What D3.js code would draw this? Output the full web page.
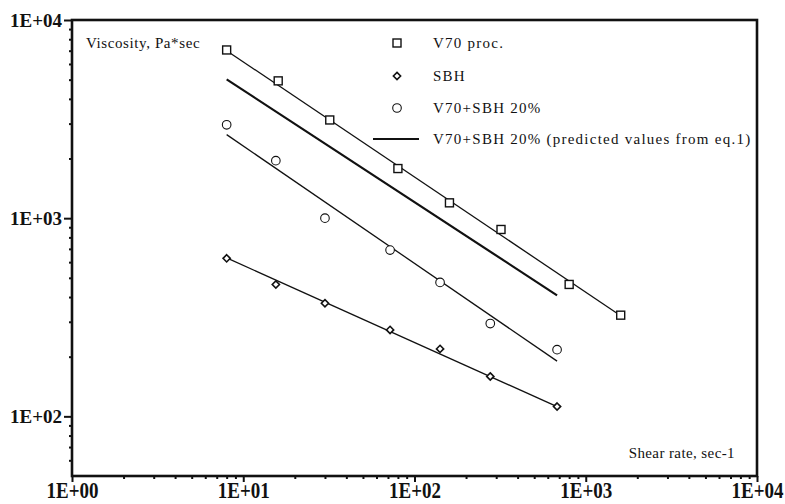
<!DOCTYPE html>
<html>
<head>
<meta charset="utf-8">
<script src="https://cdn.jsdelivr.net/npm/d3@7/dist/d3.min.js"></script>
<style>
  html, body { margin: 0; padding: 0; background: #fff; }
  svg { display: block; }
  text { font-family: "Liberation Serif", "Times New Roman", serif; fill: #111; }
</style>
</head>
<body>
<svg id="chart" width="785" height="504"></svg>
<script>
// Shear rate (sec-1) and viscosity (Pa*sec) measurements
const shearV70 = [8, 16, 32, 80, 160, 320, 800, 1600];
const viscV70 = [7060, 4930, 3130, 1780, 1195, 877, 463, 324];

const shearBlend = [8, 15.5, 30, 72, 141, 277, 680];
const viscSBH = [627, 463, 372, 273, 219, 159, 112];
const viscBlend = [2960, 1950, 1000, 690, 474, 294, 217];

// Power-law fit lines (end points)
const fitShearV70 = [8, 1600];
const fitViscV70 = [7000, 322];
const fitShearSBH = [8, 680];
const fitViscSBH = [630, 112];
const fitShearBlend = [8, 680];
const fitViscBlend = [2640, 190];
const predShear = [8, 680];
const predVisc = [5020, 408];

// Axis ticks
const xMajor = [1, 10, 100, 1000, 10000];
const yMajor = [100, 1000, 10000];

const legendLabels = ["V70 proc.", "SBH", "V70+SBH 20%", "V70+SBH 20% (predicted values from eq.1)"];

const svg = d3.select("#chart");
const plotL = 72, plotR = 757, plotT = 20, plotB = 476;

const x = d3.scaleLog().domain([1, 10000]).range([plotL, plotR]);
const y = d3.scaleLog().domain([50, 10000]).range([plotB, plotT]);

const expFmt = d => "1E+" + String(Math.round(Math.log10(d))).padStart(2, "0");

function minorTicks(scale) {
  const [a, b] = scale.domain();
  const out = [];
  for (let p = Math.floor(Math.log10(a)); p < Math.ceil(Math.log10(b)); p++) {
    for (let m = 2; m <= 9; m++) {
      const v = m * Math.pow(10, p);
      if (v > a && v < b) out.push(v);
    }
  }
  return out;
}

// Minor ticks
svg.append("g").attr("transform", `translate(0,${plotB})`)
  .call(d3.axisBottom(x).tickValues(minorTicks(x)).tickSize(3).tickFormat(""))
  .call(g => g.select(".domain").remove())
  .selectAll("line").attr("stroke", "#111").attr("stroke-width", 2);

svg.append("g").attr("transform", `translate(${plotL},0)`)
  .call(d3.axisLeft(y).tickValues(minorTicks(y)).tickSize(3).tickFormat(""))
  .call(g => g.select(".domain").remove())
  .selectAll("line").attr("stroke", "#111").attr("stroke-width", 2);

// Major ticks and labels
const xAxisG = svg.append("g").attr("transform", `translate(0,${plotB})`)
  .call(d3.axisBottom(x).tickValues(xMajor).tickSize(6).tickFormat(expFmt))
  .call(g => g.select(".domain").remove());
xAxisG.selectAll("line").attr("stroke", "#111").attr("stroke-width", 2);
xAxisG.selectAll("text")
  .attr("y", null).attr("dy", null)
  .attr("transform", "translate(0,22) scale(1,1.25)")
  .attr("font-size", 19).attr("font-weight", "bold").attr("fill", "#111");

const yAxisG = svg.append("g").attr("transform", `translate(${plotL},0)`)
  .call(d3.axisLeft(y).tickValues(yMajor).tickSize(8).tickPadding(2).tickFormat(expFmt))
  .call(g => g.select(".domain").remove());
yAxisG.selectAll("line").attr("stroke", "#111").attr("stroke-width", 2);
yAxisG.selectAll("text")
  .attr("font-size", 19).attr("font-weight", "bold").attr("fill", "#111");

// Frame
svg.append("rect")
  .attr("x", plotL).attr("y", plotT)
  .attr("width", plotR - plotL).attr("height", plotB - plotT)
  .attr("fill", "none").attr("stroke", "#111").attr("stroke-width", 2.6);

// Fit lines
const line = d3.line().x(d => x(d[0])).y(d => y(d[1]));
const fits = [
  { s: fitShearV70, v: fitViscV70, w: 1.3 },
  { s: fitShearSBH, v: fitViscSBH, w: 1.3 },
  { s: fitShearBlend, v: fitViscBlend, w: 1.3 },
  { s: predShear, v: predVisc, w: 2.2 }
];
svg.append("g").selectAll("path").data(fits).join("path")
  .attr("d", f => line(d3.zip(f.s, f.v)))
  .attr("fill", "none").attr("stroke", "#111").attr("stroke-width", f => f.w);

// Marker shapes
function drawSquare(g, cx, cy) {
  g.append("rect").attr("x", cx - 4).attr("y", cy - 4).attr("width", 8).attr("height", 8)
    .attr("fill", "#fff").attr("stroke", "#111").attr("stroke-width", 1.4);
}
function drawDiamond(g, cx, cy) {
  g.append("path").attr("d", `M${cx},${cy - 3.6}L${cx + 3.6},${cy}L${cx},${cy + 3.6}L${cx - 3.6},${cy}Z`)
    .attr("fill", "#fff").attr("stroke", "#111").attr("stroke-width", 1.6);
}
function drawCircle(g, cx, cy) {
  g.append("circle").attr("cx", cx).attr("cy", cy).attr("r", 4.3)
    .attr("fill", "#fff").attr("stroke", "#111").attr("stroke-width", 1.1);
}

const pts = svg.append("g");
shearV70.forEach((s, i) => drawSquare(pts, x(s), y(viscV70[i])));
shearBlend.forEach((s, i) => drawDiamond(pts, x(s), y(viscSBH[i])));
shearBlend.forEach((s, i) => drawCircle(pts, x(s), y(viscBlend[i])));

// Legend
const legend = svg.append("g");
const lx = 397, tx = 433, rows = [43, 76, 108, 139];
drawSquare(legend, lx, rows[0]);
drawDiamond(legend, lx, rows[1]);
drawCircle(legend, lx, rows[2]);
legend.append("line").attr("x1", 373).attr("x2", 419).attr("y1", rows[3]).attr("y2", rows[3])
  .attr("stroke", "#111").attr("stroke-width", 2.2);
legend.selectAll("text").data(legendLabels).join("text")
  .attr("x", tx).attr("y", (d, i) => rows[i] + 5)
  .attr("font-size", 15).attr("letter-spacing", 1.25)
  .text(d => d);

// Axis titles inside the frame
svg.append("text").attr("x", 86).attr("y", 48)
  .attr("font-size", 15).attr("letter-spacing", 0.6).text("Viscosity, Pa*sec");
svg.append("text").attr("x", 735).attr("y", 458).attr("text-anchor", "end")
  .attr("font-size", 15).attr("letter-spacing", 0.4).text("Shear rate, sec-1");
</script>
</body>
</html>
